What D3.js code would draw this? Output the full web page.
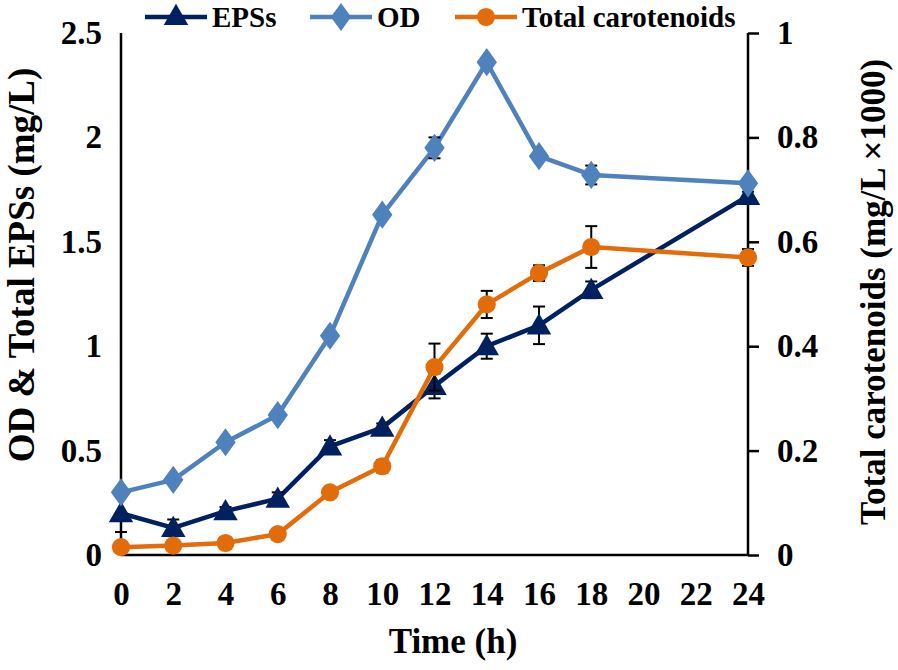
<!DOCTYPE html>
<html><head><meta charset="utf-8">
<script src="https://cdn.jsdelivr.net/npm/d3@7"></script>
<style>body{margin:0;background:#fff}svg{display:block}text{font-family:"Liberation Serif","Times New Roman",serif;font-weight:bold;fill:#000}</style>
</head><body><svg id="c" width="898" height="670"></svg>
<script>
const time = [0, 2, 4, 6, 8, 10, 12, 14, 16, 18, 24];
const eps = [0.20, 0.13, 0.21, 0.27, 0.52, 0.61, 0.81, 1.00, 1.10, 1.27, 1.72];
const epsErr = [0.09, 0.04, 0.02, 0.03, 0.03, 0.02, 0.06, 0.06, 0.09, 0.04, 0.02];
const od = [0.30, 0.36, 0.54, 0.67, 1.05, 1.63, 1.95, 2.36, 1.91, 1.82, 1.78];
const odErr = [0.01, 0.01, 0.01, 0.01, 0.01, 0.01, 0.05, 0.02, 0.02, 0.045, 0.01];
const car = [0.015, 0.018, 0.023, 0.04, 0.12, 0.17, 0.36, 0.48, 0.54, 0.59, 0.57];
const carErr = [0.003, 0.003, 0.003, 0.005, 0.01, 0.012, 0.045, 0.026, 0.015, 0.04, 0.016];
const xTicks = [0, 2, 4, 6, 8, 10, 12, 14, 16, 18, 20, 22, 24];
const yLeftTicks = [0, 0.5, 1, 1.5, 2, 2.5];
const yRightTicks = [0, 0.2, 0.4, 0.6, 0.8, 1];
const seriesNames = ["EPSs", "OD", "Total carotenoids"];
const colors = ["#002060", "#4F81BD", "#E36C0A"];

const svg = d3.select("#c");
const L = 121, R = 748, T = 33, B = 555;
const x = d3.scaleLinear().domain([0, 24]).range([L, R]);
const yL = d3.scaleLinear().domain([0, 2.5]).range([B, T]);
const yR = d3.scaleLinear().domain([0, 1]).range([B, T]);

const axL = svg.append("g").attr("transform", `translate(${L},0)`)
  .call(d3.axisLeft(yL).tickValues(yLeftTicks).tickSize(0).tickPadding(19).tickFormat(d3.format("")));
const axR = svg.append("g").attr("transform", `translate(${R},0)`)
  .call(d3.axisRight(yR).tickValues(yRightTicks).tickSize(11).tickPadding(18).tickFormat(d3.format("")));
const axB = svg.append("g").attr("transform", `translate(0,${B})`)
  .call(d3.axisBottom(x).tickValues(xTicks).tickSize(0).tickPadding(27).tickFormat(d3.format("")));
[axL, axR, axB].forEach(a => {
  a.selectAll("path").attr("stroke", "#000").attr("stroke-width", 2.5);
  a.selectAll("line").attr("stroke", "#000").attr("stroke-width", 2.5);
  a.selectAll("text").style("font-size", "33px").style("font-family", '"Liberation Serif",serif').style("font-weight", "bold").attr("fill", "#000");
});
axL.select("path").attr("d", `M0,${T}V${B}`);
axR.select("path").attr("d", `M0,${T}V${B}`);
axB.select("path").attr("d", `M${L},0H${R}`);

svg.append("text").attr("x", 453).attr("y", 645).attr("text-anchor", "middle").attr("dominant-baseline", "middle")
  .style("font-size", "35px").text("Time (h)");
svg.append("text").attr("transform", "translate(26,265) rotate(-90)").attr("text-anchor", "middle").attr("dominant-baseline", "middle")
  .style("font-size", "37px").text("OD & Total EPSs (mg/L)");
svg.append("text").attr("transform", "translate(877,292) rotate(-90)").attr("text-anchor", "middle").attr("dominant-baseline", "middle")
  .style("font-size", "35px").text("Total carotenoids (mg/L \u00d71000)");

const series = [
  {vals: eps, err: epsErr, y: yL, sym: d3.symbolTriangle, size: 260},
  {vals: od, err: odErr, y: yL, sym: d3.symbolDiamond, size: 230},
  {vals: car, err: carErr, y: yR, sym: d3.symbolCircle, size: 260}
];

series.forEach((s, i) => {
  const g = svg.append("g");
  const pts = time.map((t, j) => ({t, v: s.vals[j], e: s.err[j]}));
  g.append("path").datum(pts).attr("fill", "none").attr("stroke", colors[i]).attr("stroke-width", 4.5)
    .attr("stroke-linejoin", "round")
    .attr("d", d3.line().x(d => x(d.t)).y(d => s.y(d.v)));
  const eb = g.selectAll(".eb").data(pts).enter().append("g");
  eb.append("line").attr("x1", d => x(d.t)).attr("x2", d => x(d.t))
    .attr("y1", d => s.y(d.v - d.e)).attr("y2", d => s.y(d.v + d.e)).attr("stroke", "#000").attr("stroke-width", 2);
  [-1, 1].forEach(sg => {
    eb.append("line").attr("x1", d => x(d.t) - 6).attr("x2", d => x(d.t) + 6)
      .attr("y1", d => s.y(d.v + sg * d.e)).attr("y2", d => s.y(d.v + sg * d.e)).attr("stroke", "#000").attr("stroke-width", 2);
  });
  g.selectAll(".m").data(pts).enter().append("path")
    .attr("transform", d => `translate(${x(d.t)},${s.y(d.v) + (i === 0 ? 2 : 0)})` + (i === 1 ? " scale(1.25,1)" : ""))
    .attr("d", d3.symbol().type(s.sym).size(s.size)).attr("fill", colors[i]);
});

const legX = [145, 310, 455];
const legG = svg.append("g");
seriesNames.forEach((n, i) => {
  const lx = legX[i], ly = 17;
  legG.append("line").attr("x1", lx).attr("x2", lx + 62).attr("y1", ly).attr("y2", ly).attr("stroke", colors[i]).attr("stroke-width", 4.5);
  legG.append("path").attr("transform", `translate(${lx + 31},${ly + (i === 0 ? 1 : 0)})` + (i === 1 ? " scale(1.25,1)" : ""))
    .attr("d", d3.symbol().type(series[i].sym).size(series[i].size)).attr("fill", colors[i]);
  legG.append("text").attr("x", lx + 67).attr("y", 27).style("font-size", "29px").text(n);
});
</script></body></html>
